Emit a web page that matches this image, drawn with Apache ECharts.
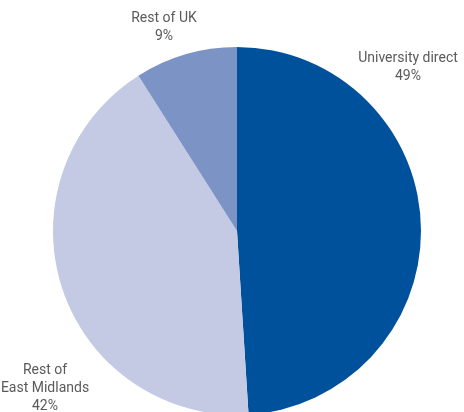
<!DOCTYPE html>
<html>
<head>
<meta charset="utf-8">
<script src="https://cdn.jsdelivr.net/npm/echarts@6/dist/echarts.min.js"></script>
<style>
  html, body { margin: 0; padding: 0; background: #ffffff; }
  #chart { width: 464px; height: 412px; }
</style>
</head>
<body>
<div id="chart"></div>
<script>
// Share of spend by destination
const categories = ['University direct', 'Rest of\nEast Midlands', 'Rest of UK'];
const shares = [49, 42, 9];
const colors = ['#00519b', '#c4cae4', '#7b93c5'];

// Label anchor points (centre of each text block)
const labelAnchors = [
  { x: 408, y: 67 },
  { x: 45, y: 388 },
  { x: 164, y: 27 }
];

const chart = echarts.init(document.getElementById('chart'), null, { renderer: 'canvas' });

const total = shares.reduce((s, v) => s + v, 0);

chart.setOption({
  animation: false,
  series: [{
    type: 'pie',
    center: [237, 231],
    radius: 184,
    startAngle: 90,
    clockwise: true,
    avoidLabelOverlap: false,
    data: categories.map((name, i) => ({
      name: name,
      value: shares[i],
      itemStyle: { color: colors[i] }
    })),
    itemStyle: { borderWidth: 0 },
    label: { show: false },
    labelLine: { show: false },
    emphasis: { disabled: true }
  }],
  graphic: categories.map((name, i) => ({
    type: 'text',
    x: labelAnchors[i].x,
    y: labelAnchors[i].y,
    silent: true,
    style: {
      text: name + '\n' + Math.round(shares[i] / total * 100) + '%',
      fill: '#5a5a5a',
      font: '14px Roboto',
      lineHeight: 18,
      align: 'center',
      verticalAlign: 'middle'
    }
  }))
});
</script>
</body>
</html>
